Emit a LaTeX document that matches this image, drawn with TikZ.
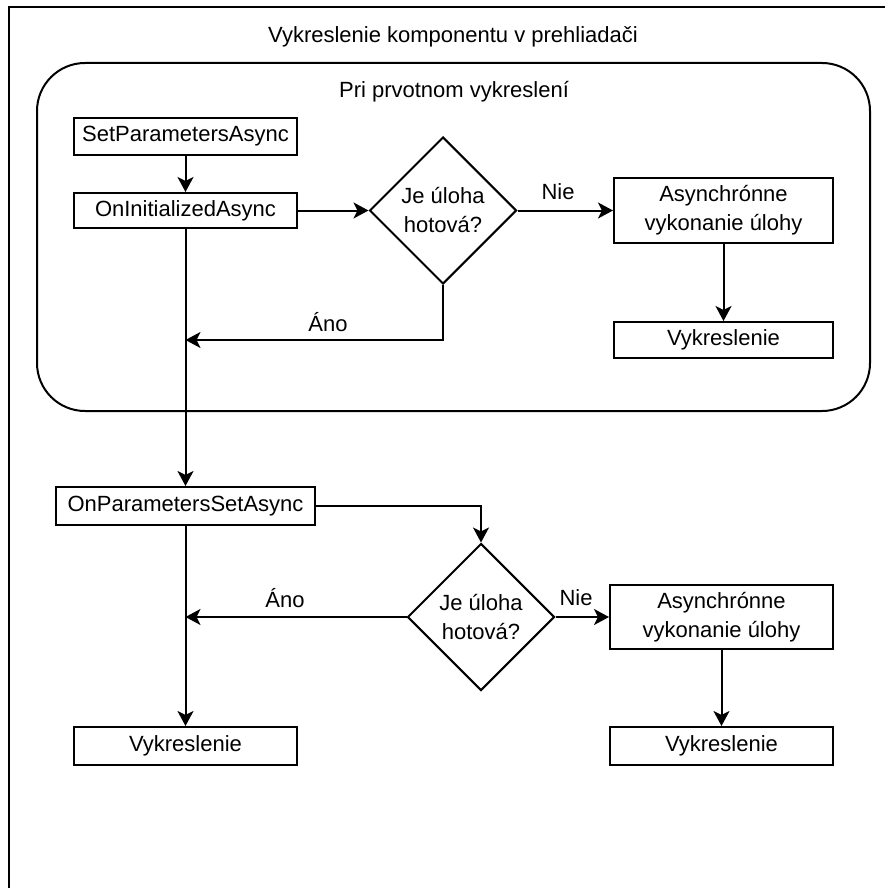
\documentclass[tikz,border=0pt]{standalone}
\usepackage{fontspec}
\setmainfont{Liberation Sans}
\usetikzlibrary{shapes.geometric,arrows.meta}
\begin{document}
\begin{tikzpicture}[x=1pt,y=-1pt,
  every node/.style={font=\fontsize{22}{29}\selectfont},
  box/.style={draw,line width=2pt,inner sep=0pt,align=center},
  dec/.style={draw,line width=2pt,diamond,inner sep=0pt,align=center,minimum width=147pt,minimum height=147pt},
  arr/.style={line width=2pt,-{Stealth[length=15pt,width=16pt,inset=4pt]}},
  lbl/.style={inner sep=0pt}]
\useasboundingbox (0,0) rectangle (885,888);
\draw[line width=2.5pt] (885,7) -- (9,7) -- (9,888);
\node[lbl] (title) at (453,37) {Vykreslenie komponentu v prehliadači};
\draw[line width=2pt,rounded corners=48pt] (37,63) rectangle (870,411);
\node[lbl] (sub) at (454,92) {Pri prvotnom vykreslení};

\node[box,minimum width=223pt,minimum height=37pt] (spa) at (185.5,136.5) {SetParametersAsync};
\node[box,minimum width=223pt,minimum height=35pt] (oia) at (185.5,210.5) {OnInitializedAsync};
\node[dec] (d1) at (443,210.5) {Je úloha\\hotová?};
\node[box,minimum width=219pt,minimum height=65pt] (a1) at (723.5,210.5) {Asynchrónne\\vykonanie úlohy};
\node[box,minimum width=219pt,minimum height=36pt] (v1) at (723.5,340) {Vykreslenie};

\node[box,minimum width=259pt,minimum height=38pt] (opsa) at (185.5,506) {OnParametersSetAsync};
\node[dec] (d2) at (481,617) {Je úloha\\hotová?};
\node[box,minimum width=223pt,minimum height=64pt] (a2) at (721.5,617) {Asynchrónne\\vykonanie úlohy};
\node[box,minimum width=223pt,minimum height=38pt] (v2) at (721.5,746) {Vykreslenie};
\node[box,minimum width=223pt,minimum height=38pt] (v3) at (185.5,746) {Vykreslenie};

\coordinate (j1) at (185.5,340);
\coordinate (j2) at (185.5,617);

\draw[arr] (spa) -- (oia);
\draw[arr] (oia) -- (d1);
\draw[arr] (d1) -- (a1);
\node[lbl] (nie1) at (558,192) {Nie};
\draw[arr] (a1) -- (v1);
\draw[arr] (d1.south) |- (j1);
\node[lbl] (ano1) at (328,322) {Áno};
\draw[arr] (oia) -- (opsa);
\draw[arr] (opsa.east) -| (d2.north);
\draw[arr] (d2) -- (a2);
\node[lbl] (nie2) at (576,598) {Nie};
\draw[arr] (a2) -- (v2);
\draw[arr] (d2.west) -- (j2);
\node[lbl] (ano2) at (285,598) {Áno};
\draw[arr] (opsa) -- (v3);
\end{tikzpicture}
\end{document}
